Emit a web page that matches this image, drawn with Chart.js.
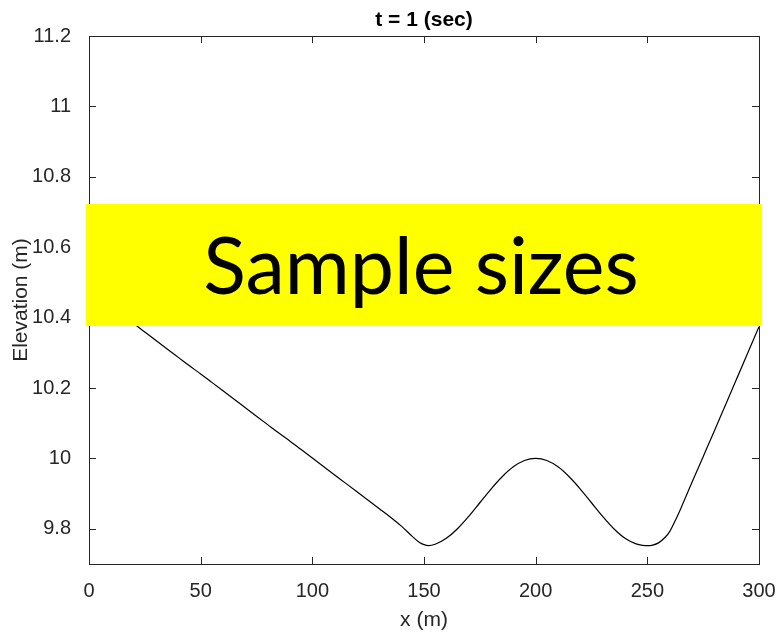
<!DOCTYPE html>
<html>
<head>
<meta charset="utf-8">
<title>t = 1 (sec)</title>
<script src="https://cdn.jsdelivr.net/npm/chart.js@4.4.1/dist/chart.umd.min.js"></script>
<style>
  html, body { margin: 0; padding: 0; background: #fff; }
  #wrap { width: 779px; height: 633px; position: relative; }
</style>
</head>
<body>
<div id="wrap"><canvas id="chart"></canvas></div>
<script>
// bed elevation along the channel (m); extra points around the two troughs
const xs = [
  0, 5, 10, 15, 20, 25, 30, 35, 40, 45, 50, 55, 60, 65, 70, 75, 80, 85, 90, 95,
  100, 105, 110, 115, 120, 125, 130, 135, 140, 145, 148, 150, 152, 155, 160, 165,
  170, 175, 180, 185, 190, 195, 200, 205, 210, 215, 220, 225, 230, 235, 240, 245,
  248, 250, 252, 255, 258, 260, 263, 265, 270, 275, 280, 285, 290, 295, 300
];
const elevation = [
  10.478, 10.454, 10.430, 10.406, 10.383, 10.359, 10.335, 10.311, 10.287, 10.263,
  10.240, 10.216, 10.192, 10.168, 10.144, 10.120, 10.096, 10.072, 10.049, 10.025,
  10.001, 9.977, 9.953, 9.929, 9.905, 9.881, 9.857, 9.833, 9.807, 9.777,
  9.761, 9.755, 9.752, 9.756, 9.773, 9.800,
  9.835, 9.874, 9.913, 9.948, 9.976, 9.994, 10.000, 9.994, 9.976, 9.948,
  9.913, 9.874, 9.835, 9.800, 9.773, 9.757,
  9.753, 9.752, 9.753, 9.760, 9.776, 9.792, 9.830, 9.858, 9.932, 10.005,
  10.078, 10.152, 10.226, 10.300, 10.374
];
const xTicks = [0, 50, 100, 150, 200, 250, 300];
const yTicks = [9.8, 10, 10.2, 10.4, 10.6, 10.8, 11, 11.2];

const plotTitle = "t = 1 (sec)";
const bannerText = "Sample sizes";
const axisColor = "#262626";

// matlab-style box: frame plus inward ticks on all four sides, then the banner
const boxPlugin = {
  id: "matlabBox",
  afterDraw(chart) {
    const { ctx, chartArea: a, scales } = chart;
    ctx.save();
    ctx.strokeStyle = axisColor;
    ctx.lineWidth = 1;
    ctx.strokeRect(Math.round(a.left) + 0.5, Math.round(a.top) + 0.5,
      Math.round(a.right - a.left), Math.round(a.bottom - a.top));

    const tl = 7;
    ctx.beginPath();
    xTicks.forEach(v => {
      const px = Math.round(scales.x.getPixelForValue(v)) + 0.5;
      ctx.moveTo(px, a.bottom); ctx.lineTo(px, a.bottom - tl);
      ctx.moveTo(px, a.top); ctx.lineTo(px, a.top + tl);
    });
    yTicks.forEach(v => {
      const py = Math.round(scales.y.getPixelForValue(v)) + 0.5;
      ctx.moveTo(a.left, py); ctx.lineTo(a.left + tl, py);
      ctx.moveTo(a.right, py); ctx.lineTo(a.right - tl, py);
    });
    ctx.stroke();

    // title over the axes
    ctx.fillStyle = "#000";
    ctx.font = "bold 21px 'Liberation Sans', Arial, sans-serif";
    ctx.textAlign = "center";
    ctx.textBaseline = "middle";
    ctx.fillText(plotTitle, (a.left + a.right) / 2, 20);

    // yellow banner across the plot
    ctx.fillStyle = "#ffff00";
    ctx.fillRect(a.left - 3, 204, (a.right - a.left) + 6, 122);
    ctx.fillStyle = "#000";
    ctx.font = "79px Lato, 'Open Sans', sans-serif";
    ctx.textBaseline = "alphabetic";
    ctx.fillText(bannerText, 421, 294);
    ctx.restore();
  }
};

const tickFont = { family: "'Liberation Sans', Arial, sans-serif", size: 20 };
const titleFont = { family: "'Liberation Sans', Arial, sans-serif", size: 21 };

new Chart(document.getElementById("chart"), {
  type: "line",
  data: {
    datasets: [{
      data: xs.map((x, i) => ({ x: x, y: elevation[i] })),
      borderColor: "#000",
      borderWidth: 1.2,
      pointRadius: 0,
      cubicInterpolationMode: "monotone",
      fill: false
    }]
  },
  options: {
    responsive: true,
    maintainAspectRatio: false,
    animation: false,
    events: [],
    layout: { padding: { top: 36, right: 20, left: 0, bottom: 0 } },
    plugins: {
      legend: { display: false },
      tooltip: { enabled: false },
      title: { display: false }
    },
    scales: {
      x: {
        type: "linear",
        min: 0,
        max: 300,
        afterBuildTicks: s => { s.ticks = xTicks.map(v => ({ value: v })); },
        afterFit: s => { s.height = 69; s.paddingLeft = 0; s.paddingRight = 0; },
        grid: { display: false },
        border: { display: false },
        ticks: { color: axisColor, font: tickFont, padding: 7, maxRotation: 0 },
        title: {
          display: true, text: "x (m)", color: axisColor,
          font: titleFont, padding: { top: 0, bottom: 0 }
        }
      },
      y: {
        type: "linear",
        min: 9.7,
        max: 11.2,
        afterBuildTicks: s => { s.ticks = yTicks.map(v => ({ value: v })); },
        afterFit: s => { s.width = 89; },
        grid: { display: false },
        border: { display: false },
        ticks: {
          color: axisColor, font: tickFont, padding: 10,
          callback: v => String(+v.toFixed(1))
        },
        title: {
          display: true, text: "Elevation (m)", color: axisColor,
          font: titleFont, padding: { top: 9, bottom: 0 }
        }
      }
    }
  },
  plugins: [boxPlugin]
});
</script>
</body>
</html>
